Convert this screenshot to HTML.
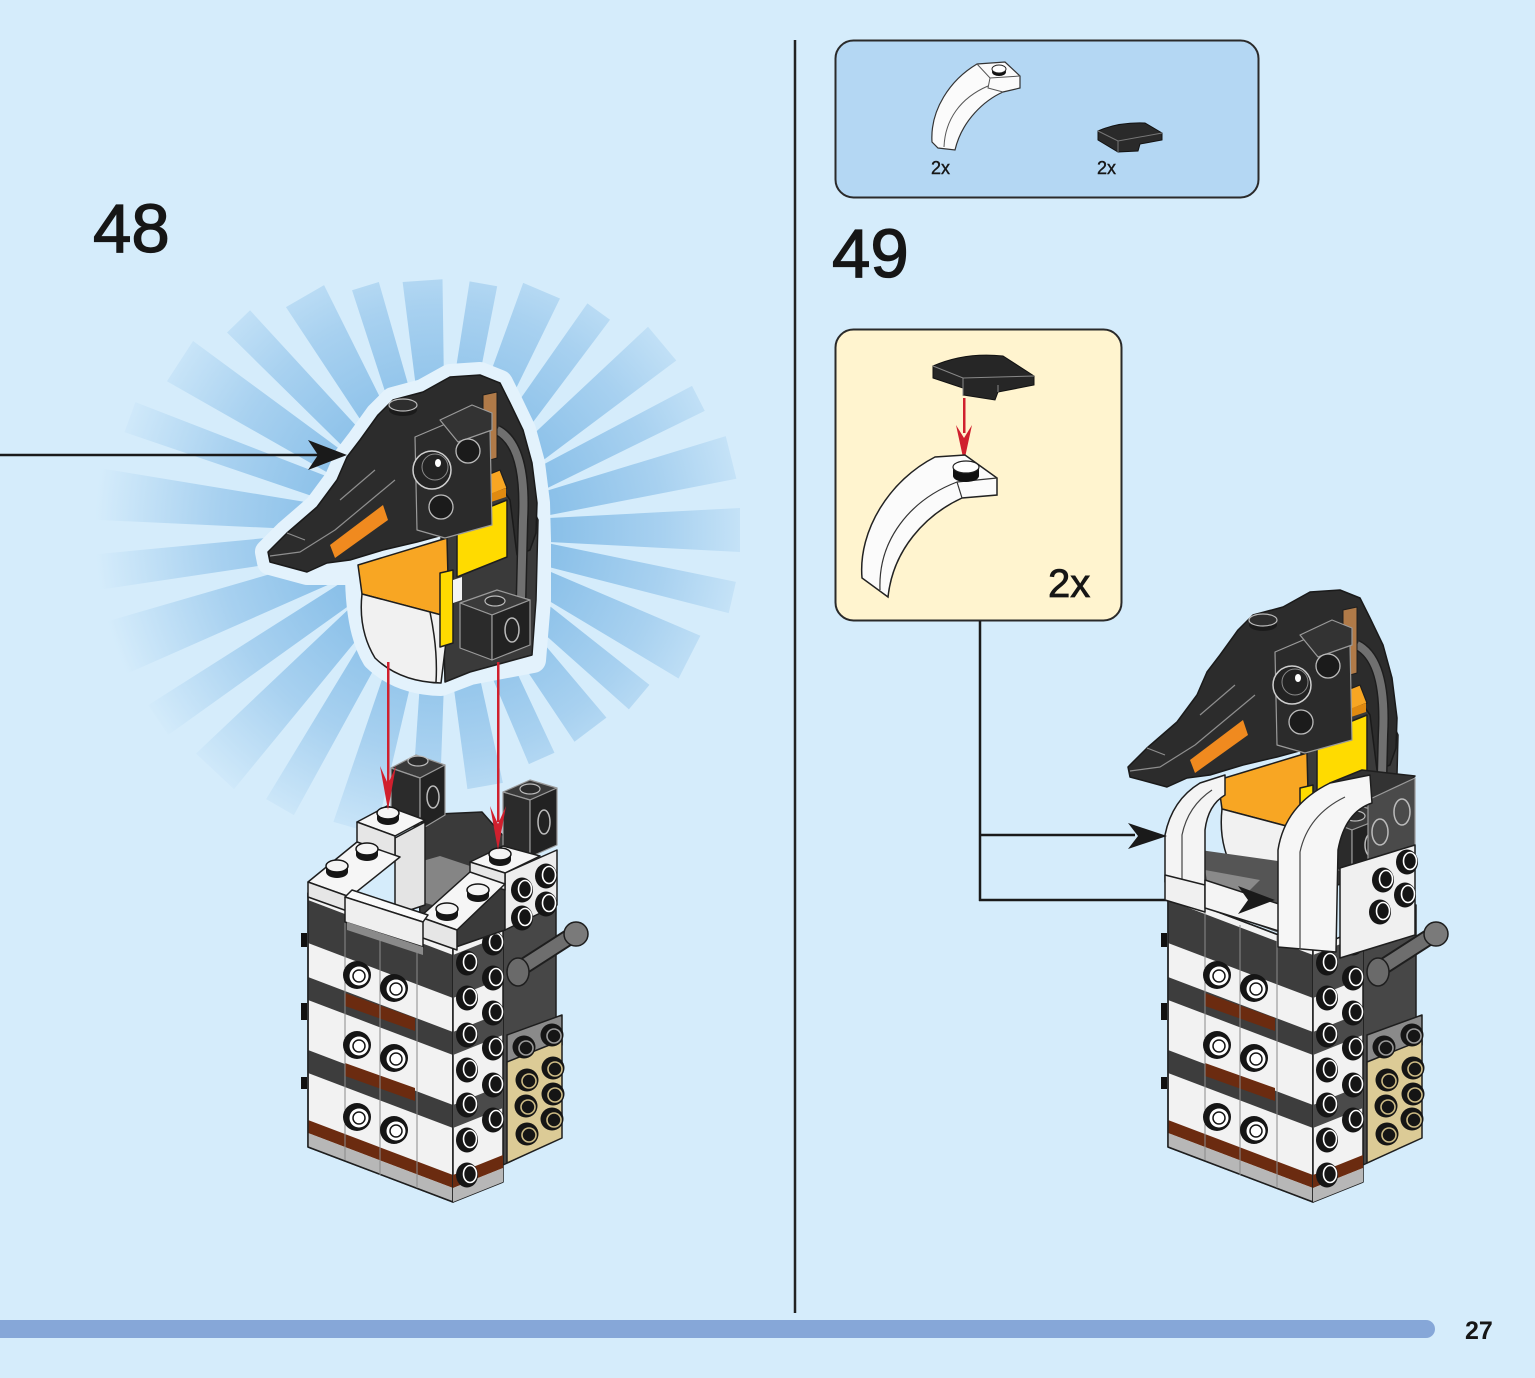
<!DOCTYPE html>
<html><head><meta charset="utf-8"><style>
html,body{margin:0;padding:0;background:#d5ecfb;}
svg{display:block;}
text{font-family:"Liberation Sans",sans-serif;fill:#161616;}
</style></head><body>
<svg width="1535" height="1378" viewBox="0 0 1535 1378" xmlns="http://www.w3.org/2000/svg">
<defs>
<radialGradient id="rg" gradientUnits="userSpaceOnUse" cx="0" cy="0" r="345">
<stop offset="0" stop-color="#7ab5e3"/>
<stop offset="0.35" stop-color="#8cc1e9"/>
<stop offset="0.65" stop-color="#a8d1f0"/>
<stop offset="1" stop-color="#d5ecfb"/>
</radialGradient>
<g id="fs"><circle r="14" fill="#151515"/><circle cx="2" cy="1" r="9.5" fill="#fff"/><circle cx="2" cy="1" r="6" fill="#fff" stroke="#151515" stroke-width="1.5"/></g>
<g id="ss"><ellipse rx="11" ry="12.5" fill="#151515"/><ellipse cx="3" cy="-1" rx="6.5" ry="8.5" fill="none" stroke="#fff" stroke-width="1.6"/></g>
<g id="ts"><ellipse cy="4" rx="11" ry="6" fill="#151515"/><rect x="-11" y="-2" width="22" height="6" fill="#151515"/><ellipse cy="-2" rx="11" ry="6" fill="#f4f4f4" stroke="#151515" stroke-width="1.5"/></g>
<g id="tp"><circle r="11.5" fill="#151515"/><circle cx="2" cy="1" r="7" fill="none" stroke="#cdbb85" stroke-width="1.6"/></g>
<g id="gp"><circle r="11.5" fill="#151515"/><circle cx="2" cy="1" r="7" fill="none" stroke="#9a9a9a" stroke-width="1.6"/></g>
</defs>

<rect width="1535" height="1378" fill="#d5ecfb"/>

<!-- burst rays -->
<g fill="url(#rg)">
<polygon points="90,-11 300,-22 300,22 90,11" transform="translate(440,530) rotate(0)"/>
<polygon points="90,-11 300,-16 300,16 90,11" transform="translate(440,530) rotate(13)"/>
<polygon points="90,-11 280,-24 280,24 90,11" transform="translate(440,530) rotate(27)"/>
<polygon points="90,-11 260,-16 260,16 90,11" transform="translate(440,530) rotate(40)"/>
<polygon points="90,-11 250,-20 250,20 90,11" transform="translate(440,530) rotate(53)"/>
<polygon points="90,-11 250,-14 250,14 90,11" transform="translate(440,530) rotate(66)"/>
<polygon points="90,-11 260,-18 260,18 90,11" transform="translate(440,530) rotate(80)"/>
<polygon points="90,-11 280,-14 280,14 90,11" transform="translate(440,530) rotate(93)"/>
<polygon points="90,-11 310,-22 310,22 90,11" transform="translate(440,530) rotate(106)"/>
<polygon points="90,-11 320,-16 320,16 90,11" transform="translate(440,530) rotate(120)"/>
<polygon points="90,-11 330,-26 330,26 90,11" transform="translate(440,530) rotate(133)"/>
<polygon points="90,-11 340,-18 340,18 90,11" transform="translate(440,530) rotate(146)"/>
<polygon points="90,-11 345,-28 345,28 90,11" transform="translate(440,530) rotate(160)"/>
<polygon points="90,-11 350,-18 350,18 90,11" transform="translate(440,530) rotate(173)"/>
<polygon points="90,-11 345,-26 345,26 90,11" transform="translate(440,530) rotate(186)"/>
<polygon points="90,-11 330,-16 330,16 90,11" transform="translate(440,530) rotate(200)"/>
<polygon points="90,-11 310,-24 310,24 90,11" transform="translate(440,530) rotate(213)"/>
<polygon points="90,-11 290,-16 290,16 90,11" transform="translate(440,530) rotate(226)"/>
<polygon points="90,-11 270,-22 270,22 90,11" transform="translate(440,530) rotate(240)"/>
<polygon points="90,-11 255,-14 255,14 90,11" transform="translate(440,530) rotate(253)"/>
<polygon points="90,-11 250,-20 250,20 90,11" transform="translate(440,530) rotate(266)"/>
<polygon points="90,-11 250,-14 250,14 90,11" transform="translate(440,530) rotate(280)"/>
<polygon points="90,-11 260,-20 260,20 90,11" transform="translate(440,530) rotate(293)"/>
<polygon points="90,-11 270,-14 270,14 90,11" transform="translate(440,530) rotate(306)"/>
<polygon points="90,-11 290,-22 290,22 90,11" transform="translate(440,530) rotate(320)"/>
<polygon points="90,-11 290,-14 290,14 90,11" transform="translate(440,530) rotate(333)"/>
<polygon points="90,-11 300,-22 300,22 90,11" transform="translate(440,530) rotate(346)"/>
</g>

<!-- halo around head -->
<path d="M268,552 L287,533 L317,507 L337,480 L347,457 L360,440 L378,415 L393,400 L423,392 L450,377 L480,375 L500,383 L510,403 L523,430 L532,463 L537,503 L538,540 L538,600 L533,660 L470,672 L441,683 Q400,682 375,658 Q358,630 358,572 L307,572 L270,562 Z" fill="#e3f2fc" stroke="#e3f2fc" stroke-width="26" stroke-linejoin="round"/>

<!-- step numbers -->
<text x="93" y="252" font-size="69" stroke="#161616" stroke-width="1.3">48</text>
<text x="832" y="277" font-size="69" stroke="#161616" stroke-width="1.3">49</text>

<!-- divider -->
<line x1="795" y1="40" x2="795" y2="1313" stroke="#222" stroke-width="2.5"/>

<!-- left arrow -->
<line x1="0" y1="455" x2="320" y2="455" stroke="#1a1a1a" stroke-width="2.5"/>
<polygon points="347,455 308,440 318,455 308,470" fill="#1a1a1a"/>

<!-- HEAD group -->
<g id="hd" stroke-linejoin="round">
 <path d="M440,500 L515,470 L538,520 L536,600 L532,655 L470,672 L445,682 Z" fill="#3a3a3a" stroke="#1e1e1e" stroke-width="1.5"/>
 <path d="M358,565 L447,538 L449,617 L362,594 Z" fill="#f8a623" stroke="#1e1e1e" stroke-width="1.5"/>
 <path d="M362,594 L449,617 L441,683 Q400,682 375,658 Q358,630 362,594 Z" fill="#f1f1f1" stroke="#1e1e1e" stroke-width="1.5"/>
 <path d="M430,612 Q438,650 436,682" fill="none" stroke="#1e1e1e" stroke-width="1.5"/>
 <polygon points="457,520 507,500 507,557 457,577" fill="#ffdb00" stroke="#1e1e1e" stroke-width="1.5"/>
 <polygon points="440,573 453,570 453,643 440,647" fill="#ffdb00" stroke="#1e1e1e" stroke-width="1.5"/>
 <polygon points="453,580 462,577 462,600 453,603" fill="#f4f4f4"/>
 <path d="M268,552 L287,533 L317,507 L337,480 L347,457 L360,440 L378,415 L393,400 L423,392 L450,377 L480,375 L500,383 L510,403 L523,430 L532,463 L537,503 L536,533 L530,550 L517,555 L510,500 L490,470 L460,495 L450,533 L417,542 L383,550 L350,560 L327,563 L307,572 L270,562 Z" fill="#2c2c2c" stroke="#1a1a1a" stroke-width="1.5"/>
 <path d="M270,556 L300,552 L335,530 L365,505 L395,480 M287,533 L305,540 M340,500 L375,470" fill="none" stroke="#8e8e8e" stroke-width="1.2"/>
 <polygon points="330,545 383,505 388,520 335,558" fill="#f08a1f"/>
 <path d="M497,430 Q527,445 523,520 L521,600" fill="none" stroke="#1e1e1e" stroke-width="11"/>
 <path d="M497,430 Q527,445 523,520 L521,600" fill="none" stroke="#707070" stroke-width="8"/>
 <polygon points="483,395 497,392 497,458 483,462" fill="#b07a48" stroke="#1e1e1e" stroke-width="1"/>
 <polygon points="470,482 500,470 507,488 477,500" fill="#f8a623" stroke="#1e1e1e" stroke-width="1.2"/>
 <polygon points="473,500 506,488 506,497 473,508" fill="#e08a10"/>
 <polygon points="415,437 455,420 490,430 492,525 445,538 417,530" fill="#2b2b2b" stroke="#9a9a9a" stroke-width="1.2"/>
 <polygon points="440,420 472,405 492,413 492,430 458,442" fill="#333" stroke="#9a9a9a" stroke-width="1.2"/>
 <circle cx="432" cy="470" r="19" fill="#232323" stroke="#cfcfcf" stroke-width="1.5"/>
 <circle cx="435" cy="467" r="13" fill="none" stroke="#8a8a8a" stroke-width="1"/>
 <ellipse cx="438" cy="463" rx="3" ry="4" fill="#fff"/>
 <circle cx="468" cy="451" r="12" fill="#1b1b1b" stroke="#bbb" stroke-width="1.3"/>
 <circle cx="441" cy="507" r="12" fill="#1b1b1b" stroke="#bbb" stroke-width="1.3"/>
 <ellipse cx="403" cy="410" rx="14" ry="6" fill="#1b1b1b"/>
 <ellipse cx="403" cy="405" rx="14" ry="6" fill="#2e2e2e" stroke="#bbb" stroke-width="1.2"/>
 <polygon points="460,603 497,590 530,600 492,615" fill="#3a3a3a" stroke="#9a9a9a" stroke-width="1.2"/>
 <polygon points="460,603 492,615 492,660 460,648" fill="#2b2b2b" stroke="#9a9a9a" stroke-width="1.2"/>
 <polygon points="492,615 530,600 530,645 492,660" fill="#222" stroke="#9a9a9a" stroke-width="1.2"/>
 <ellipse cx="495" cy="601" rx="10" ry="5" fill="#2b2b2b" stroke="#bbb" stroke-width="1.2"/>
 <ellipse cx="512" cy="630" rx="7" ry="12" fill="none" stroke="#bbb" stroke-width="1.5"/>
</g>

<!-- TOWER BODY group -->
<g id="tb" stroke-linejoin="round">
 <polygon points="503,928 556,905 556,1140 503,1165" fill="#474747" stroke="#1e1e1e" stroke-width="1.5"/>
 <polygon points="308,893 453,948 453,1202 308,1147" fill="#f2f2f2" stroke="#1e1e1e" stroke-width="1.5"/>
 <polygon points="308,900 453,955 453,998 308,943" fill="#3d3d3d"/>
 <polygon points="308,977 453,1032 453,1055 308,1000" fill="#3d3d3d"/>
 <polygon points="308,1050 453,1105 453,1128 308,1073" fill="#3d3d3d"/>
 <polygon points="308,1120 453,1175 453,1188 308,1133" fill="#6b2b10"/>
 <polygon points="308,1133 453,1188 453,1202 308,1147" fill="#b7b7b7"/>
 <polygon points="308,893 453,948 453,1202 308,1147" fill="none" stroke="#1e1e1e" stroke-width="1.5"/>
 <polygon points="345,993 415,1018 415,1031 345,1006" fill="#6b2b10"/>
 <polygon points="345,1063 415,1088 415,1101 345,1076" fill="#6b2b10"/>
 <g stroke="#8a8a8a" stroke-width="1">
  <line x1="345" y1="910" x2="345" y2="1160"/>
  <line x1="380" y1="925" x2="380" y2="1175"/>
  <line x1="417" y1="935" x2="417" y2="1188"/>
 </g>
 <use href="#fs" x="357" y="975"/><use href="#fs" x="394" y="988"/>
 <use href="#fs" x="357" y="1045"/><use href="#fs" x="394" y="1058"/>
 <use href="#fs" x="357" y="1117"/><use href="#fs" x="394" y="1130"/>
 <polygon points="453,948 503,928 503,1182 453,1202" fill="#f2f2f2" stroke="#1e1e1e" stroke-width="1.5"/>
 <polygon points="453,955 503,935 503,978 453,998" fill="#4a4a4a"/>
 <polygon points="453,1032 503,1012 503,1035 453,1055" fill="#4a4a4a"/>
 <polygon points="453,1105 503,1085 503,1108 453,1128" fill="#4a4a4a"/>
 <polygon points="453,1175 503,1155 503,1168 453,1188" fill="#6b2b10"/>
 <polygon points="453,1188 503,1168 503,1182 453,1202" fill="#b7b7b7"/>
 <use href="#ss" x="467" y="963"/><use href="#ss" x="467" y="998"/><use href="#ss" x="467" y="1035"/>
 <use href="#ss" x="467" y="1070"/><use href="#ss" x="467" y="1105"/><use href="#ss" x="467" y="1140"/>
 <use href="#ss" x="493" y="943"/><use href="#ss" x="493" y="978"/><use href="#ss" x="493" y="1013"/>
 <use href="#ss" x="493" y="1048"/><use href="#ss" x="493" y="1085"/><use href="#ss" x="493" y="1120"/>
 <use href="#ss" x="467" y="1175"/>
 <polygon points="507,1035 562,1015 562,1045 507,1065" fill="#8a8a8a" stroke="#1e1e1e" stroke-width="1.5"/>
 <polygon points="507,1062 562,1040 562,1138 507,1163" fill="#dccb96" stroke="#1e1e1e" stroke-width="1.5"/>
 <use href="#gp" x="524" y="1047"/><use href="#gp" x="552" y="1035"/>
 <use href="#tp" x="527" y="1080"/><use href="#tp" x="553" y="1068"/>
 <use href="#tp" x="526" y="1106"/><use href="#tp" x="553" y="1094"/>
 <use href="#tp" x="527" y="1134"/><use href="#tp" x="552" y="1119"/>
 <line x1="518" y1="970" x2="574" y2="934" stroke="#1e1e1e" stroke-width="17" stroke-linecap="round"/>
 <line x1="518" y1="970" x2="574" y2="934" stroke="#6e6e6e" stroke-width="13" stroke-linecap="round"/>
 <circle cx="576" cy="934" r="12" fill="#7a7a7a" stroke="#1e1e1e" stroke-width="1.5"/>
 <ellipse cx="518" cy="972" rx="11" ry="14" fill="#6a6a6a" stroke="#1e1e1e" stroke-width="1.5"/>
 <rect x="301" y="933" width="6" height="14" fill="#111"/>
 <rect x="301" y="1003" width="6" height="17" fill="#111"/>
 <rect x="301" y="1077" width="6" height="12" fill="#111"/>
</g>

<!-- LEFT tower top pieces -->
<g stroke-linejoin="round">
 <polygon points="418,835 438,814 482,812 505,838 505,930 453,948 420,920" fill="#3a3a3a" stroke="#1e1e1e" stroke-width="1.5"/>
 <polygon points="398,868 440,856 500,876 458,912 400,896" fill="#858585"/>
 <polygon points="503,792 530,780 557,788 530,800" fill="#3a3a3a" stroke="#9a9a9a" stroke-width="1.2"/>
 <polygon points="503,792 530,800 530,857 503,847" fill="#2b2b2b" stroke="#9a9a9a" stroke-width="1.2"/>
 <polygon points="530,800 557,788 557,845 530,857" fill="#222" stroke="#9a9a9a" stroke-width="1.2"/>
 <ellipse cx="530" cy="789" rx="10" ry="5" fill="#2b2b2b" stroke="#bbb" stroke-width="1.2"/>
 <ellipse cx="544" cy="822" rx="6" ry="12" fill="none" stroke="#bbb" stroke-width="1.5"/>
 <polygon points="505,873 557,850 557,905 505,930" fill="#ededed" stroke="#1e1e1e" stroke-width="1.5"/>
 <polygon points="470,862 503,846 540,856 505,873" fill="#f6f6f6" stroke="#1e1e1e" stroke-width="1.5"/>
 <polygon points="470,862 505,873 505,890 470,879" fill="#e6e6e6" stroke="#1e1e1e" stroke-width="1.5"/>
 <use href="#ts" x="500" y="856"/>
 <use href="#ss" x="522" y="890"/><use href="#ss" x="546" y="876"/>
 <use href="#ss" x="522" y="918"/><use href="#ss" x="546" y="904"/>
 <polygon points="420,917 470,872 505,884 457,930" fill="#f6f6f6" stroke="#1e1e1e" stroke-width="1.5"/>
 <polygon points="420,917 457,930 457,950 420,937" fill="#e6e6e6" stroke="#1e1e1e" stroke-width="1.5"/>
 <use href="#ts" x="447" y="911"/><use href="#ts" x="478" y="892"/>
 <polygon points="391,768 416,755 445,765 420,778" fill="#3a3a3a" stroke="#9a9a9a" stroke-width="1.2"/>
 <polygon points="391,768 420,778 420,830 391,818" fill="#2b2b2b" stroke="#9a9a9a" stroke-width="1.2"/>
 <polygon points="420,778 445,765 445,815 420,830" fill="#222" stroke="#9a9a9a" stroke-width="1.2"/>
 <ellipse cx="418" cy="761" rx="10" ry="5" fill="#2b2b2b" stroke="#bbb" stroke-width="1.2"/>
 <ellipse cx="433" cy="797" rx="6" ry="11" fill="none" stroke="#bbb" stroke-width="1.5"/>
 <polygon points="395,838 425,822 425,905 395,915" fill="#e4e4e4" stroke="#1e1e1e" stroke-width="1.5"/>
 <polygon points="357,822 387,806 425,820 395,836" fill="#f6f6f6" stroke="#1e1e1e" stroke-width="1.5"/>
 <polygon points="357,822 395,836 395,856 357,842" fill="#e6e6e6" stroke="#1e1e1e" stroke-width="1.5"/>
 <use href="#ts" x="388" y="815"/>
 <polygon points="308,882 357,842 400,857 350,897" fill="#f6f6f6" stroke="#1e1e1e" stroke-width="1.5"/>
 <polygon points="308,882 350,897 350,912 308,897" fill="#e6e6e6" stroke="#1e1e1e" stroke-width="1.5"/>
 <use href="#ts" x="337" y="868"/><use href="#ts" x="367" y="851"/>
 <polygon points="345,897 352,890 428,915 423,922" fill="#fafafa" stroke="#1e1e1e" stroke-width="1.5"/>
 <polygon points="345,897 423,922 423,947 345,922" fill="#efefef" stroke="#1e1e1e" stroke-width="1.5"/>
 <polygon points="347,922 423,947 423,955 347,930" fill="#8a8a8a"/>
</g>

<!-- red arrows left -->
<g fill="#d0202e" stroke="none">
 <rect x="387" y="662" width="2.5" height="128"/>
 <polygon points="388,810 380,766 388,784 396,766"/>
 <rect x="497" y="662" width="2.5" height="160"/>
 <polygon points="498,850 490,806 498,824 506,806"/>
</g>

<!-- parts box -->
<rect x="835.5" y="40.5" width="423" height="157" rx="18" fill="#b4d7f3" stroke="#2a2a2a" stroke-width="2"/>
<path d="M932,142 C930,110 950,80 977,64 L1005,62 L1020,76 L1020,88 L1003,92 C985,100 962,120 955,150 L938,148 Z" fill="#fbfbfb" stroke="#333" stroke-width="1.2"/>
<path d="M977,64 L990,78 L1020,76 M990,78 L988,88 L1003,92 M944,147 C945,120 960,98 988,86" fill="none" stroke="#555" stroke-width="1"/>
<ellipse cx="999" cy="72" rx="7" ry="4" fill="#111"/>
<ellipse cx="999" cy="69" rx="7" ry="4" fill="#fff" stroke="#222" stroke-width="1"/>
<path d="M1098,131 Q1118,122 1145,123 L1162,133 L1162,140 L1140,144 L1138,151 L1118,152 L1098,140 Z" fill="#2a2a2a" stroke="#111" stroke-width="1"/>
<path d="M1098,131 L1118,141 L1162,133 M1118,141 L1118,152" fill="none" stroke="#777" stroke-width="1"/>
<text x="931" y="174" font-size="18" stroke="#161616" stroke-width="0.4">2x</text>
<text x="1097" y="174" font-size="18" stroke="#161616" stroke-width="0.4">2x</text>

<!-- callout -->
<rect x="835.5" y="329.5" width="286" height="291" rx="18" fill="#fff4cf" stroke="#2a2a2a" stroke-width="2"/>
<path d="M933,366 Q965,352 1003,356 L1034,376 L1034,385 L998,392 L995,400 L963,395 L963,388 L933,378 Z" fill="#262626" stroke="#111" stroke-width="1"/>
<path d="M933,366 L963,378 L1034,376 M963,378 L963,395 M998,385 L998,392" fill="none" stroke="#888" stroke-width="1"/>
<rect x="963" y="398" width="2.5" height="35" fill="#d0202e"/>
<polygon points="964,462 956,425 964,438 972,425" fill="#d0202e"/>
<path d="M862,578 C858,530 890,480 935,457 L965,455 L997,478 L997,495 L962,498 C925,515 893,550 888,597 Z" fill="#fbfbfb" stroke="#222" stroke-width="1.5"/>
<path d="M880,590 C878,540 910,500 957,482 L997,478 M957,482 L962,498" fill="none" stroke="#333" stroke-width="1.2"/>
<ellipse cx="966" cy="476" rx="13" ry="6" fill="#111"/>
<rect x="953" y="468" width="26" height="8" fill="#111"/>
<ellipse cx="966" cy="467" rx="13" ry="6" fill="#fff" stroke="#222" stroke-width="1.2"/>
<text x="1048" y="597" font-size="40" stroke="#161616" stroke-width="0.8">2x</text>

<!-- connectors -->
<g stroke="#1a1a1a" stroke-width="2.5" fill="none">
 <line x1="980" y1="621" x2="980" y2="901"/>
 <line x1="979" y1="835" x2="1135" y2="835"/>
 <line x1="979" y1="900" x2="1245" y2="900"/>
</g>

<!-- RIGHT model -->
<use href="#tb" transform="translate(860,0)"/>
<use href="#hd" transform="translate(860,215)"/>
<g stroke-linejoin="round">
 <polygon points="1200,850 1285,862 1285,935 1200,905" fill="#555"/>
 <polygon points="1205,870 1260,880 1240,900 1210,895" fill="#8a8a8a"/>
 <path d="M1165,882 L1165,835 Q1172,800 1200,783 L1225,775 L1225,795 Q1208,805 1205,830 L1205,892 Z" fill="#f4f4f4" stroke="#1e1e1e" stroke-width="1.5"/>
 <path d="M1182,887 L1182,835 Q1188,806 1212,790" fill="none" stroke="#444" stroke-width="1.2"/>
 <polygon points="1165,875 1205,885 1205,912 1165,900" fill="#f0f0f0" stroke="#1e1e1e" stroke-width="1.5"/>
 <polygon points="1205,880 1282,905 1282,932 1205,908" fill="#f4f4f4" stroke="#1e1e1e" stroke-width="1.5"/>
 <polygon points="1330,783 1362,770 1415,776 1400,792 1370,800" fill="#333" stroke="#1e1e1e" stroke-width="1.5"/>
 <polygon points="1368,800 1415,778 1415,862 1368,882" fill="#4a4a4a" stroke="#9a9a9a" stroke-width="1.2"/>
 <ellipse cx="1380" cy="832" rx="8" ry="13" fill="none" stroke="#bbb" stroke-width="1.5"/>
 <ellipse cx="1402" cy="812" rx="8" ry="13" fill="none" stroke="#bbb" stroke-width="1.5"/>
 <polygon points="1340,868 1415,845 1415,935 1340,958" fill="#f0f0f0" stroke="#1e1e1e" stroke-width="1.5"/>
 <use href="#ss" x="1383" y="880"/><use href="#ss" x="1407" y="862"/>
 <use href="#ss" x="1380" y="912"/><use href="#ss" x="1405" y="895"/>
 <path d="M1278,947 L1278,850 Q1285,805 1330,783 L1370,775 L1372,803 Q1345,812 1338,850 L1336,952 Z" fill="#f6f6f6" stroke="#1e1e1e" stroke-width="1.5"/>
 <path d="M1300,948 L1300,852 Q1308,815 1345,797" fill="none" stroke="#444" stroke-width="1.2"/>
</g>
<polygon points="1167,836 1128,823 1138,836 1128,849" fill="#1a1a1a"/>
<polygon points="1275,900 1238,886 1248,900 1238,914" fill="#1a1a1a"/>

<!-- bottom bar & page number -->
<rect x="-20" y="1320" width="1455" height="18" rx="9" fill="#86a7d8"/>
<text x="1465" y="1339" font-size="25" font-weight="bold">27</text>
</svg>
</body></html>
